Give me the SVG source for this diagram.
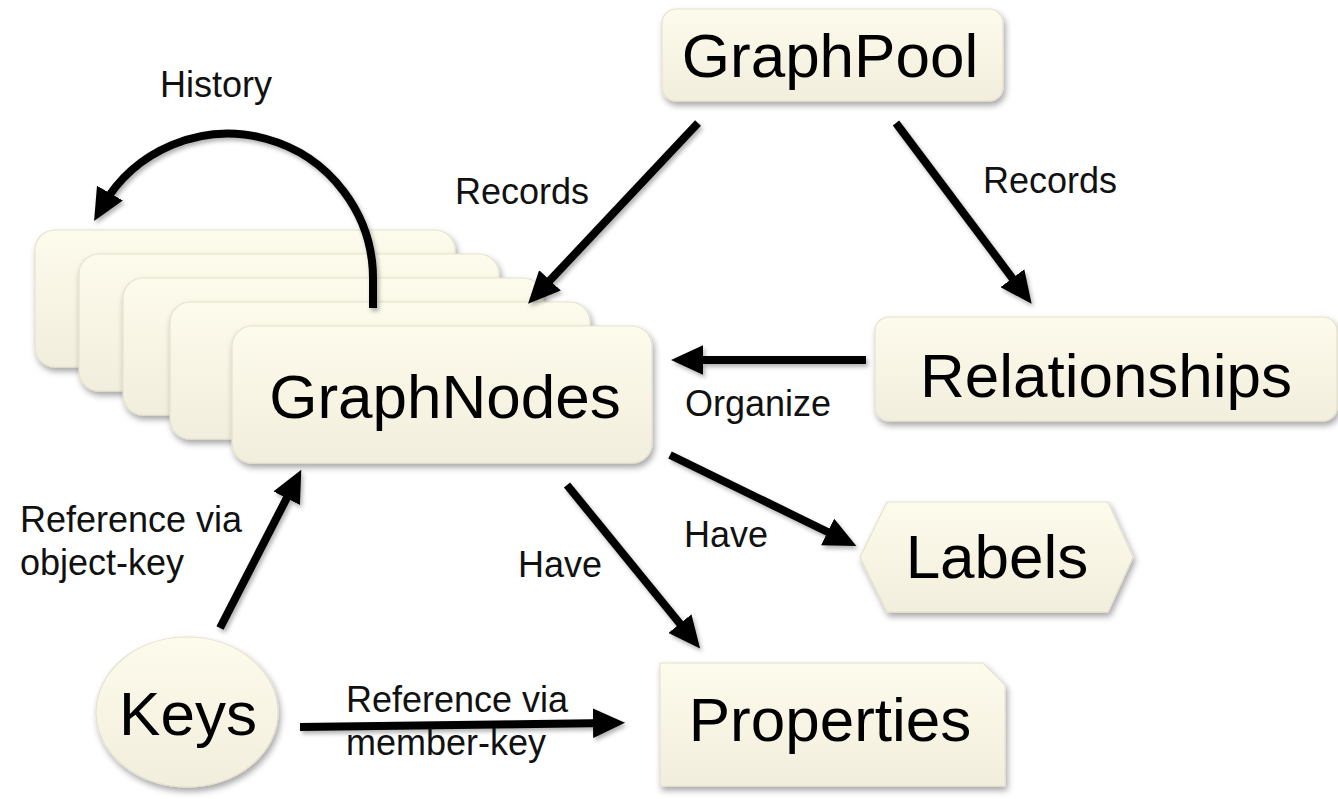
<svg xmlns="http://www.w3.org/2000/svg" width="1338" height="799" viewBox="0 0 1338 799">
<style>
.node{fill:url(#cream);stroke:#e6e1cc;stroke-width:1.2;filter:url(#sh)}
.big{font-family:"Liberation Sans",Arial,sans-serif;font-size:62px;fill:#000;text-anchor:middle}
.lbl{font-family:"Liberation Sans",Arial,sans-serif;font-size:36px;fill:#111}
.c{text-anchor:middle}
.arr{fill:none;stroke:#000;stroke-width:8;marker-end:url(#ah)}
</style>
<defs>
<linearGradient id="cream" x1="0" y1="0" x2="0" y2="1">
<stop offset="0" stop-color="#fdfbec"/>
<stop offset="1" stop-color="#f2eedd"/>
</linearGradient>
<filter id="sh" x="-10%" y="-10%" width="130%" height="140%">
<feDropShadow dx="2" dy="4" stdDeviation="3" flood-color="#000" flood-opacity="0.35"/>
</filter>
<filter id="ash" x="-20%" y="-20%" width="140%" height="140%">
<feDropShadow dx="2" dy="3" stdDeviation="2" flood-color="#000" flood-opacity="0.3"/>
</filter>
<marker id="ah" markerUnits="userSpaceOnUse" markerWidth="32" markerHeight="30" viewBox="0 0 28 26" refX="14" refY="13" orient="auto">
<path d="M0,0 L28,13 L0,26 z" fill="#000"/>
</marker>
</defs>

<g id="graphpool">
<rect class="node" x="662" y="9" width="341" height="92" rx="14"/>
<text class="big" x="830" y="77">GraphPool</text>
</g>

<g id="relationships">
<rect class="node" x="875" y="317" width="462" height="104" rx="14"/>
<text class="big" x="1106" y="397">Relationships</text>
</g>

<g id="graphnodes">
<rect class="node" x="35" y="230" width="420" height="137" rx="20"/>
<rect class="node" x="79" y="254" width="420" height="137" rx="20"/>
<rect class="node" x="123" y="278" width="420" height="137" rx="20"/>
<rect class="node" x="170" y="302" width="420" height="137" rx="20"/>
<rect class="node" x="232" y="326" width="420" height="137" rx="20"/>
<text class="big" x="445" y="418">GraphNodes</text>
</g>

<g id="labels">
<polygon class="node" points="860,557 887,502 1108,502 1133,557 1108,612 887,612"/>
<text class="big" x="997" y="578">Labels</text>
</g>

<g id="properties">
<path class="node" d="M660,663 H983 L1005,685 V786 H660 Z"/>
<text class="big" x="830" y="741">Properties</text>
</g>

<g id="keys">
<ellipse class="node" cx="187" cy="712" rx="91" ry="75"/>
<text class="big" x="188" y="735">Keys</text>
</g>

<g id="connectors" filter="url(#ash)">
<path class="arr" d="M373,308 L373,280 A145,145 0 0 0 102,207"/>
<path class="arr" d="M698,123 L539,292"/>
<path class="arr" d="M896,123 L1022,291"/>
<path class="arr" d="M866,360 L687,360"/>
<path class="arr" d="M670,455 L842,539"/>
<path class="arr" d="M567,485 L690,636"/>
<path class="arr" d="M220,628 L294,484"/>
<path class="arr" d="M300,727 L609,723"/>
</g>

<g id="edge-labels">
<text class="lbl c" x="216" y="97">History</text>
<text class="lbl c" x="522" y="204">Records</text>
<text class="lbl c" x="1050" y="193">Records</text>
<text class="lbl c" x="758" y="416">Organize</text>
<text class="lbl c" x="560" y="577">Have</text>
<text class="lbl c" x="726" y="547">Have</text>
<text class="lbl" x="20" y="532">Reference via</text>
<text class="lbl" x="20" y="575">object-key</text>
<text class="lbl" x="346" y="712">Reference via</text>
<text class="lbl" x="346" y="755">member-key</text>
</g>
</svg>
